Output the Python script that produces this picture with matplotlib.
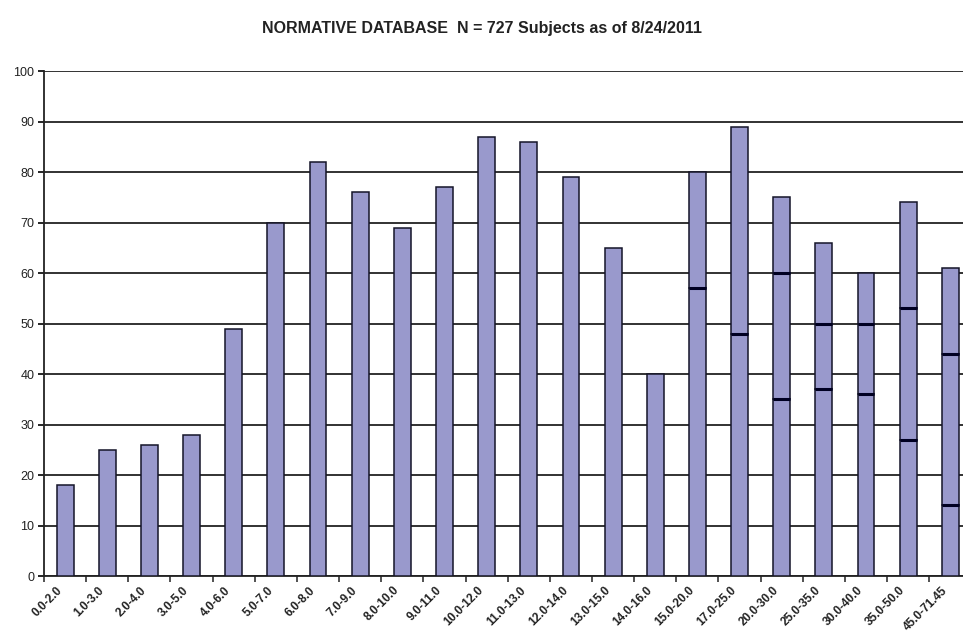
import numpy as np
import matplotlib.pyplot as plt
import matplotlib.transforms as mtransforms

# age ranges (years)
age_ranges = ['0.0-2.0', '1.0-3.0', '2.0-4.0', '3.0-5.0', '4.0-6.0', '5.0-7.0',
              '6.0-8.0', '7.0-9.0', '8.0-10.0', '9.0-11.0', '10.0-12.0', '11.0-13.0',
              '12.0-14.0', '13.0-15.0', '14.0-16.0', '15.0-20.0', '17.0-25.0',
              '20.0-30.0', '25.0-35.0', '30.0-40.0', '35.0-50.0', '45.0-71.45']

# stacked segments, bottom to top
seg_low = [18, 25, 26, 28, 49, 70, 82, 76, 69, 77, 87, 86, 79, 65, 40,
           57, 48, 35, 37, 36, 27, 14]
seg_mid = [0, 0, 0, 0, 0, 0, 0, 0, 0, 0, 0, 0, 0, 0, 0,
           23, 41, 25, 13, 14, 26, 30]
seg_top = [0, 0, 0, 0, 0, 0, 0, 0, 0, 0, 0, 0, 0, 0, 0,
           0, 0, 15, 16, 10, 21, 17]

plt.rcParams['font.family'] = ['Liberation Sans', 'DejaVu Sans']

fig = plt.figure(figsize=(9.63, 6.36), dpi=100)
ax = fig.add_axes([0.0457, 0.0943, 0.9543, 0.7940])

x = np.arange(len(age_ranges))
low = np.array(seg_low)
mid = np.array(seg_mid)
top = np.array(seg_top)
fill = '#9999cc'
edge = '#141428'

ax.bar(x, low, width=0.4, color=fill, edgecolor=edge, linewidth=1.1, zorder=3)
m = mid > 0
ax.bar(x[m], mid[m], bottom=low[m], width=0.4, color=fill, edgecolor=edge,
       linewidth=1.1, zorder=3)
t = top > 0
ax.bar(x[t], top[t], bottom=(low + mid)[t], width=0.4, color=fill, edgecolor=edge,
       linewidth=1.1, zorder=3)

# segment boundaries look heavier in the original
for xi, lo, md, tp in zip(x, low, mid, top):
    if md > 0:
        ax.hlines(lo, xi - 0.2, xi + 0.2, color='#000022', linewidth=2.2, zorder=4)
    if tp > 0:
        ax.hlines(lo + md, xi - 0.2, xi + 0.2, color='#000022', linewidth=2.2, zorder=4)

ax.set_xlim(-0.5, 21.3)
ax.set_ylim(0, 100)
ax.set_yticks(range(0, 101, 10))
ax.yaxis.grid(True, color='#222222', linewidth=1.3, zorder=0)

ax.set_xticks(x)
ax.set_xticklabels(age_ranges, rotation=45, ha='right', rotation_mode='anchor',
                   fontsize=8.5, fontweight='bold', color='#222222')
ax.tick_params(axis='x', length=0, pad=6)
offset = mtransforms.ScaledTranslation(-9 / 100, 0, fig.dpi_scale_trans)
for lbl in ax.get_xticklabels():
    lbl.set_transform(lbl.get_transform() + offset)
ax.set_xticks(np.arange(-0.5, 21.5, 1), minor=True)
ax.tick_params(axis='x', which='minor', length=4, width=1.2, direction='out', color='#333333')
ax.tick_params(axis='y', length=4, width=1.2, direction='out', labelsize=9, pad=3,
               labelcolor='#222222')

for s in ['top', 'right']:
    ax.spines[s].set_visible(False)
ax.spines['left'].set_color('#222222')
ax.spines['left'].set_linewidth(1.3)
ax.spines['bottom'].set_color('#222222')
ax.spines['bottom'].set_linewidth(1.3)

fig.text(0.5, 0.955, 'NORMATIVE DATABASE  N = 727 Subjects as of 8/24/2011',
         ha='center', va='center', fontsize=11.5, fontweight='bold', color='#222222')

fig.savefig('out.png', dpi=100)
